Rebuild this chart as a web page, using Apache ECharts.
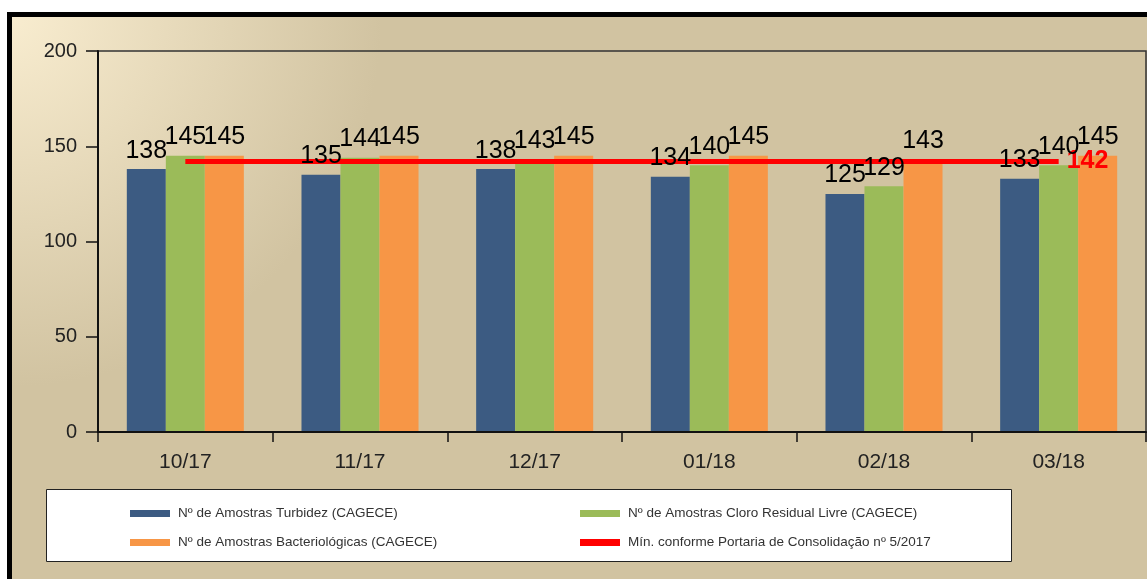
<!DOCTYPE html>
<html>
<head>
<meta charset="utf-8">
<script src="https://cdn.jsdelivr.net/npm/echarts@6/dist/echarts.min.js"></script>
<style>
  html, body { margin: 0; padding: 0; background: #fff; }
  #chart { width: 1147px; height: 579px; }
</style>
</head>
<body>
<div id="chart"></div>
<script>
// dados do gráfico
var categorias = ['10/17', '11/17', '12/17', '01/18', '02/18', '03/18'];
var turbidez = [138, 135, 138, 134, 125, 133];
var cloro = [145, 144, 143, 140, 129, 140];
var bacterio = [145, 145, 145, 145, 143, 145];
var minimo = [142, 142, 142, 142, 142, 142];
var nomes = [
    'Nº de Amostras Turbidez (CAGECE)',
    'Nº de Amostras Cloro Residual Livre (CAGECE)',
    'Nº de Amostras Bacteriológicas (CAGECE)',
    'Mín. conforme Portaria de Consolidação nº 5/2017'
];

var chart = echarts.init(document.getElementById('chart'));

function barra(nome, dados, cor) {
    return {
        name: nome,
        type: 'bar',
        z: 2,
        data: dados,
        barGap: '0%',
        barCategoryGap: '33%',
        itemStyle: { color: cor }
    };
}

// barras transparentes só para os rótulos, ficam por cima da linha vermelha
function rotulos(dados) {
    return {
        type: 'bar',
        xAxisIndex: 1,
        z: 10,
        silent: true,
        data: dados,
        barGap: '0%',
        barCategoryGap: '33%',
        itemStyle: { color: 'transparent' },
        label: {
            show: true,
            position: 'top',
            distance: 6,
            color: '#000',
            fontSize: 25,
            fontFamily: 'Liberation Sans'
        }
    };
}

var option = {
    backgroundColor: '#fff',
    animation: false,
    textStyle: { fontFamily: 'Liberation Sans' },
    graphic: [{
        type: 'rect',
        z: -10,
        shape: { x: 9.5, y: 14.5, width: 1200, height: 620 },
        style: {
            fill: {
                type: 'radial', x: 0, y: 0, r: 0.6,
                colorStops: [
                    { offset: 0, color: '#f9edd0' },
                    { offset: 1, color: '#d1c3a1' }
                ]
            },
            stroke: '#000',
            lineWidth: 5
        }
    }, {
        // caixa da legenda
        type: 'rect',
        z: -5,
        shape: { x: 46.5, y: 489.5, width: 965, height: 72 },
        style: { fill: '#fff', stroke: '#222', lineWidth: 1 }
    }],
    grid: {
        left: 98, top: 51, right: 1, bottom: 147,
        show: true,
        borderColor: '#333',
        borderWidth: 1.5,
        backgroundColor: 'transparent'
    },
    legend: {
        left: 130,
        top: 505,
        width: 900,
        padding: 0,
        itemWidth: 40,
        itemHeight: 7,
        itemGap: 12,
        icon: 'rect',
        textStyle: { color: '#333', fontSize: 13.5, width: 390, lineHeight: 17, padding: [0, 0, 0, 3] },
        data: nomes
    },
    xAxis: [{
        type: 'category',
        data: categorias,
        axisLine: { lineStyle: { color: '#111', width: 2 } },
        axisTick: { show: true, length: 10, lineStyle: { color: '#111', width: 1.5 } },
        axisLabel: { color: '#222', fontSize: 21, margin: 20 },
        z: 5
    }, {
        type: 'category',
        data: categorias,
        show: false
    }],
    yAxis: {
        type: 'value',
        min: 0, max: 200, interval: 50,
        splitLine: { show: false },
        axisLine: { show: true, lineStyle: { color: '#111', width: 2 } },
        axisTick: { show: true, length: 12, lineStyle: { color: '#111', width: 1.5 } },
        axisLabel: { color: '#222', fontSize: 20, margin: 21 },
        z: 5
    },
    series: [
        barra(nomes[0], turbidez, '#3c5b82'),
        barra(nomes[1], cloro, '#9bbb59'),
        barra(nomes[2], bacterio, '#f79646'),
        {
            name: nomes[3],
            type: 'line',
            z: 3,
            data: minimo,
            symbol: 'none',
            lineStyle: { color: '#ff0000', width: 5 },
            itemStyle: { color: '#ff0000' },
            endLabel: {
                show: true,
                distance: 8,
                color: '#ff0000',
                fontSize: 25,
                fontWeight: 'bold'
            }
        },
        rotulos(turbidez),
        rotulos(cloro),
        rotulos(bacterio)
    ]
};

chart.setOption(option);
</script>
</body>
</html>
